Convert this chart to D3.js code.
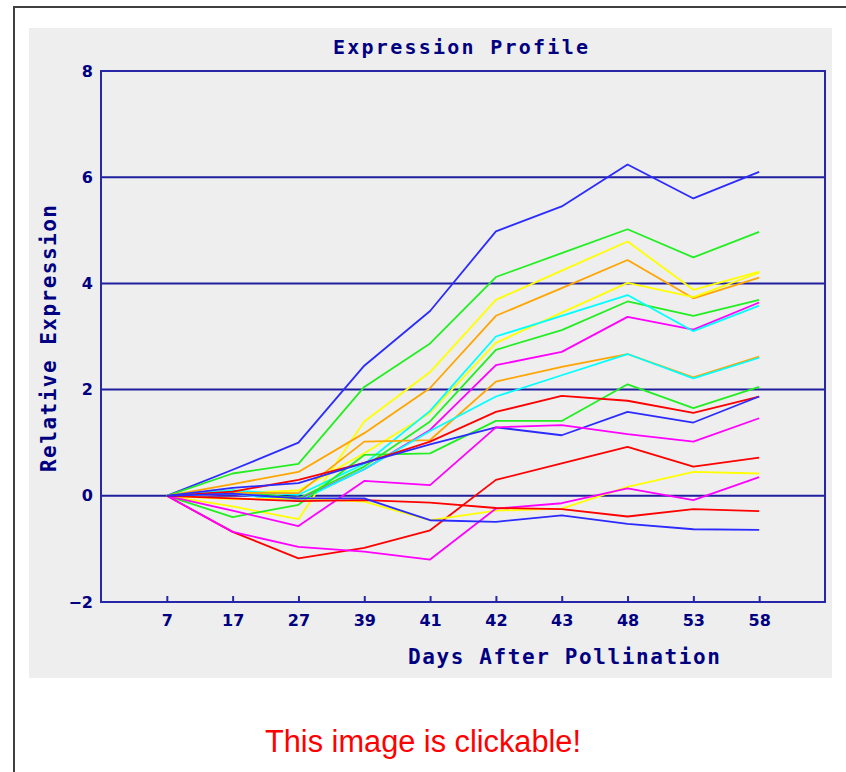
<!DOCTYPE html>
<html>
<head>
<meta charset="utf-8">
<script src="https://cdn.jsdelivr.net/npm/d3@7"></script>
<style>
  html, body { margin: 0; padding: 0; background: #ffffff; }
  svg { display: block; }
</style>
</head>
<body>
<svg id="chart" width="846" height="772"></svg>
<script>
// Sampling days (x categories)
const days = ["7", "17", "27", "39", "41", "42", "43", "48", "53", "58"];

// Y axis tick values
const yTicks = [-2, 0, 2, 4, 6, 8];

// Relative expression profiles, one array per gene (values at each day)
const profileValues = [
  [0, 0.49, 1.00, 2.45, 3.48, 4.98, 5.45, 6.24, 5.60, 6.10],
  [0, 0.42, 0.60, 2.05, 2.87, 4.12, 4.57, 5.02, 4.49, 4.97],
  [0, -0.20, -0.44, 1.40, 2.33, 3.69, 4.24, 4.79, 3.88, 4.22],
  [0, 0.22, 0.45, 1.18, 2.03, 3.39, 3.91, 4.44, 3.72, 4.11],
  [0, 0.05, 0.10, 0.80, 1.56, 2.88, 3.45, 4.01, 3.74, 4.20],
  [0, 0.10, -0.05, 0.55, 1.40, 2.75, 3.12, 3.66, 3.39, 3.69],
  [0, 0.03, -0.08, 0.50, 1.24, 2.46, 2.71, 3.37, 3.13, 3.64],
  [0, 0.10, 0.02, 0.60, 1.60, 3.00, 3.39, 3.78, 3.10, 3.58],
  [0, 0.06, 0.05, 1.02, 1.05, 2.15, 2.43, 2.67, 2.23, 2.62],
  [0, 0.04, -0.10, 0.50, 1.22, 1.87, 2.27, 2.67, 2.21, 2.60],
  [0, -0.40, -0.17, 0.77, 0.80, 1.41, 1.41, 2.10, 1.65, 2.05],
  [0, 0.08, 0.30, 0.62, 1.02, 1.58, 1.88, 1.79, 1.56, 1.87],
  [0, 0.15, 0.24, 0.62, 0.97, 1.29, 1.14, 1.58, 1.38, 1.87],
  [0, -0.28, -0.57, 0.28, 0.20, 1.29, 1.33, 1.16, 1.02, 1.46],
  [0, -0.68, -1.18, -0.98, -0.65, 0.30, 0.61, 0.92, 0.55, 0.72],
  [0, -0.06, -0.05, -0.11, -0.46, -0.28, -0.24, 0.17, 0.45, 0.42],
  [0, -0.68, -0.96, -1.05, -1.20, -0.24, -0.14, 0.14, -0.08, 0.35],
  [0, -0.05, -0.10, -0.08, -0.13, -0.23, -0.25, -0.39, -0.25, -0.29],
  [0, 0.04, -0.05, -0.05, -0.46, -0.49, -0.37, -0.53, -0.63, -0.64]
];

// Line colour for each profile
const profileColors = [
  "#2b2bff", "#22ee22", "#ffff00", "#ffa500", "#ffff00", "#22ee22", "#ff00ff",
  "#00ffff", "#ffa500", "#00ffff", "#22ee22", "#ff0000", "#2b2bff", "#ff00ff",
  "#ff0000", "#ffff00", "#ff00ff", "#ff0000", "#2b2bff"
];

const navy = "#000080";
const gridBlue = "#1e1e9e";

const svg = d3.select("#chart");

// Page frame
svg.append("line").attr("x1", 14).attr("x2", 846).attr("y1", 7).attr("y2", 7)
  .attr("stroke", "#404040").attr("stroke-width", 2);
svg.append("line").attr("x1", 14).attr("x2", 14).attr("y1", 6).attr("y2", 772)
  .attr("stroke", "#404040").attr("stroke-width", 2);

// Grey chart panel
svg.append("rect").attr("x", 29).attr("y", 28).attr("width", 803).attr("height", 650)
  .attr("fill", "#eeeeee");

const plot = { left: 101, right: 825, top: 71, bottom: 602 };

const x = d3.scalePoint().domain(days).range([plot.left, plot.right]).padding(1);
const y = d3.scaleLinear().domain([-2, 8]).range([plot.bottom, plot.top]);

// Horizontal grid lines
svg.append("g")
  .selectAll("line")
  .data(yTicks.filter(v => v > -2 && v < 8))
  .join("line")
  .attr("x1", plot.left).attr("x2", plot.right)
  .attr("y1", d => y(d)).attr("y2", d => y(d))
  .attr("stroke", gridBlue).attr("stroke-width", 2);

// Profile lines
const line = d3.line().x((d, i) => x(days[i])).y(d => y(d));
svg.append("g")
  .selectAll("path")
  .data(profileValues)
  .join("path")
  .attr("d", d => line(d))
  .attr("fill", "none")
  .attr("stroke", (d, i) => profileColors[i])
  .attr("stroke-width", 1.8)
  .attr("stroke-linejoin", "round");

// Plot frame
svg.append("rect")
  .attr("x", plot.left).attr("y", plot.top)
  .attr("width", plot.right - plot.left).attr("height", plot.bottom - plot.top)
  .attr("fill", "none").attr("stroke", "#2626a6").attr("stroke-width", 2);

// X axis: ticks point up from the bottom edge
const xAxis = svg.append("g")
  .attr("transform", `translate(0,${plot.bottom})`)
  .call(d3.axisBottom(x).tickSizeInner(-6).tickSizeOuter(0).tickPadding(13));
xAxis.select(".domain").remove();
xAxis.selectAll(".tick line").attr("stroke", "#2626a6").attr("stroke-width", 2);
xAxis.selectAll(".tick text")
  .attr("fill", navy)
  .attr("font-family", "'DejaVu Sans', sans-serif")
  .attr("font-weight", "bold")
  .attr("font-size", 16);

// Y axis labels
const yAxis = svg.append("g")
  .attr("transform", `translate(${plot.left},0)`)
  .call(d3.axisLeft(y).tickValues(yTicks).tickSize(0).tickPadding(8).tickFormat(d3.format("d")));
yAxis.select(".domain").remove();
yAxis.selectAll(".tick text")
  .attr("fill", navy)
  .attr("font-family", "'DejaVu Sans', sans-serif")
  .attr("font-weight", "bold")
  .attr("font-size", 16)
  .text(d => d < 0 ? "\u2212" + Math.abs(d) : d);

// Titles
const monoFont = "'DejaVu Sans Mono', monospace";
svg.append("text")
  .attr("x", 333).attr("y", 54)
  .attr("textLength", 255).attr("lengthAdjust", "spacing")
  .attr("font-family", monoFont).attr("font-size", 20).attr("font-weight", "bold")
  .attr("fill", navy)
  .text("Expression Profile");

svg.append("text")
  .attr("x", 408).attr("y", 664)
  .attr("textLength", 312).attr("lengthAdjust", "spacing")
  .attr("font-family", monoFont).attr("font-size", 21).attr("font-weight", "bold")
  .attr("fill", navy)
  .text("Days After Pollination");

svg.append("text")
  .attr("transform", "translate(56,472) rotate(-90)")
  .attr("textLength", 267).attr("lengthAdjust", "spacing")
  .attr("font-family", monoFont).attr("font-size", 21).attr("font-weight", "bold")
  .attr("fill", navy)
  .text("Relative Expression");

// Caption under the chart
svg.append("text")
  .attr("x", 265).attr("y", 752)
  .attr("textLength", 316).attr("lengthAdjust", "spacingAndGlyphs")
  .attr("font-family", "'Liberation Sans', Arial, sans-serif")
  .attr("font-size", 31)
  .attr("fill", "#ff0000")
  .text("This image is clickable!");
</script>
</body>
</html>
